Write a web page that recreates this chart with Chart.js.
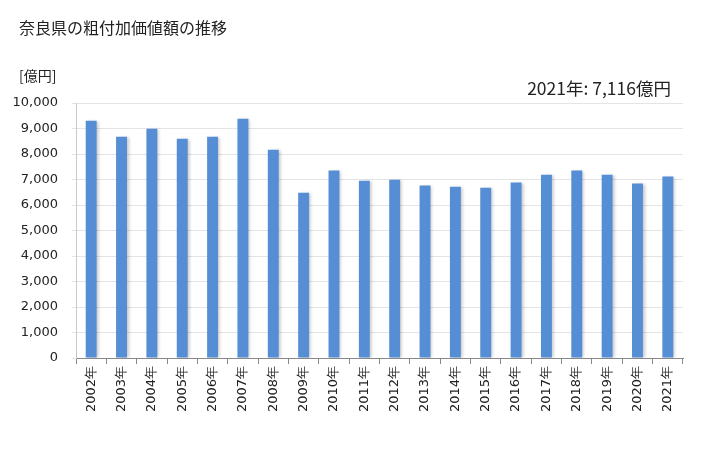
<!DOCTYPE html>
<html>
<head>
<meta charset="utf-8">
<script src="https://cdn.jsdelivr.net/npm/chart.js@4/dist/chart.umd.min.js"></script>
<style>
html,body{margin:0;padding:0;background:#fff;}
#wrap{width:728px;height:450px;position:relative;}
</style>
</head>
<body>
<div id="wrap"><canvas id="c" width="728" height="450"></canvas></div>
<script>
const titleText = "奈良県の粗付加価値額の推移";
const unitText = "[億円]";
const noteText = "2021年: 7,116億円";
const categories = ["2002年","2003年","2004年","2005年","2006年","2007年","2008年","2009年","2010年","2011年","2012年","2013年","2014年","2015年","2016年","2017年","2018年","2019年","2020年","2021年"];
const values = [9307, 8680, 8990, 8600, 8680, 9385, 8170, 6480, 7350, 6950, 6990, 6760, 6720, 6680, 6880, 7190, 7350, 7190, 6840, 7116];
const yMin = 0, yMax = 10000, yStep = 1000;

const jpFont = "'Noto Sans CJK JP', 'DejaVu Sans', sans-serif";
const numFont = "'DejaVu Sans', sans-serif";

const textPlugin = {
  id: 'texts',
  afterDraw(chart) {
    const ctx = chart.ctx;
    ctx.save();
    ctx.fillStyle = '#222';
    ctx.textBaseline = 'middle';
    ctx.textAlign = 'left';
    ctx.font = "16px " + jpFont;
    ctx.fillText(titleText, 19, 28);
    ctx.font = "14px " + jpFont;
    ctx.fillText(unitText, 19, 76);
    ctx.font = "17.5px " + jpFont;
    ctx.textAlign = 'right';
    ctx.fillText(noteText, 671, 88);
    ctx.restore();
  }
};

const shadowPlugin = {
  id: 'barShadow',
  beforeDatasetsDraw(chart) {
    const ctx = chart.ctx;
    ctx.save();
    ctx.shadowColor = 'rgba(0,0,0,0.22)';
    ctx.shadowBlur = 3;
    ctx.shadowOffsetX = 2;
    ctx.shadowOffsetY = 0;
  },
  afterDatasetsDraw(chart) {
    chart.ctx.restore();
  }
};

new Chart(document.getElementById('c'), {
  type: 'bar',
  data: {
    labels: categories,
    datasets: [{
      data: values,
      backgroundColor: '#558ED5',
      borderWidth: 0,
      barPercentage: 0.36,
      categoryPercentage: 1.0
    }]
  },
  options: {
    responsive: false,
    animation: false,
    devicePixelRatio: 1,
    layout: { padding: { top: 103, right: 45, bottom: 0, left: 0 } },
    plugins: { legend: { display: false }, tooltip: { enabled: false }, title: { display: false } },
    scales: {
      x: {
        offset: true,
        grid: { display: true, drawOnChartArea: false, offset: true, color: '#888', tickLength: 6 },
        border: { color: '#888', width: 1 },
        ticks: {
          color: '#222',
          font: { family: numFont, size: 13 },
          minRotation: 90, maxRotation: 90,
          padding: 2,
          autoSkip: false
        },
        afterFit(scale) { scale.height = 92; }
      },
      y: {
        min: yMin, max: yMax,
        grid: { color: '#e4e4e4', tickLength: 4, drawTicks: true },
        border: { color: '#c8c8c8', width: 1 },
        ticks: {
          stepSize: yStep,
          color: '#222',
          font: { family: numFont, size: 13 },
          padding: 14,
          callback: v => v.toLocaleString('en-US')
        },
        afterFit(scale) { scale.width = 76; }
      }
    }
  },
  plugins: [textPlugin, shadowPlugin]
});
</script>
</body>
</html>
